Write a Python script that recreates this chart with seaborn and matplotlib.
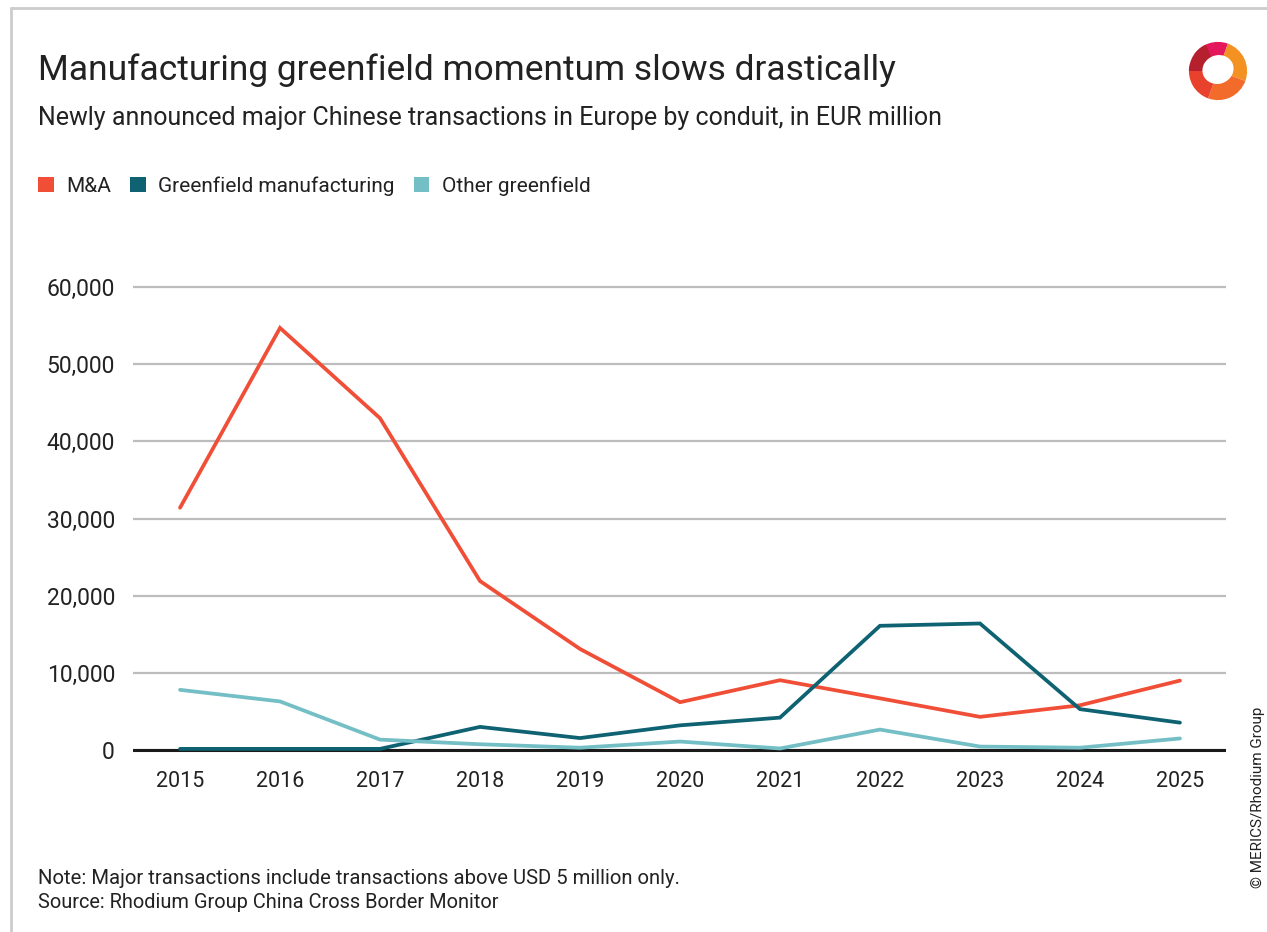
import numpy as np
import pandas as pd
import seaborn as sns
import matplotlib
matplotlib.use("Agg")
import matplotlib.pyplot as plt
from matplotlib.patches import Patch, Wedge, Ellipse
from matplotlib.lines import Line2D
from matplotlib.ticker import FuncFormatter

# data, EUR million
years = [2015, 2016, 2017, 2018, 2019, 2020, 2021, 2022, 2023, 2024, 2025]
m_and_a = [31400, 54700, 43000, 21900, 13100, 6200, 9050, 6700, 4300, 5800, 9000]
greenfield_manuf = [150, 150, 150, 3000, 1550, 3200, 4200, 16100, 16400, 5300, 3550]
other_greenfield = [7800, 6300, 1350, 750, 300, 1100, 200, 2650, 450, 300, 1500]

series_names = ["M&A", "Greenfield manufacturing", "Other greenfield"]
colors = ["#F04E37", "#0E6272", "#74BEC5"]
text_col = "#222222"

df = pd.DataFrame({
    "year": years * 3,
    "value": m_and_a + greenfield_manuf + other_greenfield,
    "conduit": [series_names[0]] * len(years) + [series_names[1]] * len(years)
    + [series_names[2]] * len(years),
})

sns.set_theme(style="white")
plt.rcParams["font.family"] = ["Roboto", "DejaVu Sans"]

fig = plt.figure(figsize=(12.67, 9.32), dpi=100)
ax = fig.add_axes([0.105, 0.1911, 0.8626, 0.5092])

sns.lineplot(data=df, x="year", y="value", hue="conduit", hue_order=series_names,
             palette=colors, linewidth=2.7, ax=ax, legend=False, zorder=3)
for ln in ax.lines:
    ln.set_solid_capstyle("round")
    ln.set_solid_joinstyle("miter")

ax.set_xlim(2014.53, 2025.46)
ax.set_ylim(-500, 61000)
ax.set_xticks(years)
ax.set_yticks(range(0, 60001, 10000))
ax.yaxis.set_major_formatter(FuncFormatter(lambda v, p: f"{int(v):,}"))
ax.grid(axis="y", color="#BDBDBD", linewidth=1.6)
ax.grid(axis="x", visible=False)
ax.axhline(0, color="#1a1a1a", linewidth=2.2, zorder=2)
for s in ax.spines.values():
    s.set_visible(False)
ax.set_xlabel("")
ax.set_ylabel("")
ax.tick_params(axis="both", length=0, labelsize=15.5, colors=text_col)
ax.tick_params(axis="y", labelsize=16.5, pad=13)
ax.tick_params(axis="x", pad=12)

# titles
fig.text(0.030, 1 - 70 / 932, "Manufacturing greenfield momentum slows drastically",
         fontsize=25.5, color=text_col, va="center", ha="left")
fig.text(0.030, 1 - 118 / 932,
         "Newly announced major Chinese transactions in Europe by conduit, in EUR million",
         fontsize=18, color=text_col, va="center", ha="left")

# legend
handles = [Patch(facecolor=c, edgecolor="none") for c in colors]
fig.legend(handles, series_names, loc="center left", bbox_to_anchor=(0.0155, 1 - 186 / 932),
           ncol=3, frameon=False, fontsize=15, handlelength=0.75, handleheight=0.75,
           handletextpad=0.6, columnspacing=0.9, labelcolor=text_col)

# notes
fig.text(0.030, 1 - 878 / 932,
         "Note: Major transactions include transactions above USD 5 million only.",
         fontsize=14.6, color=text_col, va="center", ha="left")
fig.text(0.030, 1 - 903 / 932, "Source: Rhodium Group China Cross Border Monitor",
         fontsize=14.4, color=text_col, va="center", ha="left")
fig.text(1 - 9 / 1267, 1 - 797 / 932, "© MERICS/Rhodium Group", rotation=90,
         fontsize=11, color=text_col, va="center", ha="center")

# frame lines
fig.add_artist(Line2D([11 / 1267, 1], [1 - 8 / 932, 1 - 8 / 932], color="#CCCCCC",
                      linewidth=2, transform=fig.transFigure))
fig.add_artist(Line2D([11 / 1267, 11 / 1267], [0, 1 - 8 / 932], color="#CCCCCC",
                      linewidth=2, transform=fig.transFigure))

# logo
lax = fig.add_axes([1188 / 1267, 1 - 101 / 932, 60 / 1267, 60 / 932])
lax.set_xlim(-1, 1)
lax.set_ylim(-1, 1)
lax.set_aspect("equal")
lax.axis("off")
logo_cols = ["#E4175C", "#F39223", "#F26B2A", "#E8412C", "#B5202E"]
starts = [70, -20, -110, 170, 115]
ends = [145, 70, -20, 250, 180]
for c, a0, a1 in zip(logo_cols, starts, ends):
    lax.add_patch(Wedge((0, 0), 0.97, a0, a1, width=0.55, facecolor=c, edgecolor="none"))
lax.add_patch(Ellipse((0.0, 0.05), 1.05, 0.95, angle=20, facecolor="white", edgecolor="none"))

fig.savefig("out.png", dpi=100, facecolor="white")
